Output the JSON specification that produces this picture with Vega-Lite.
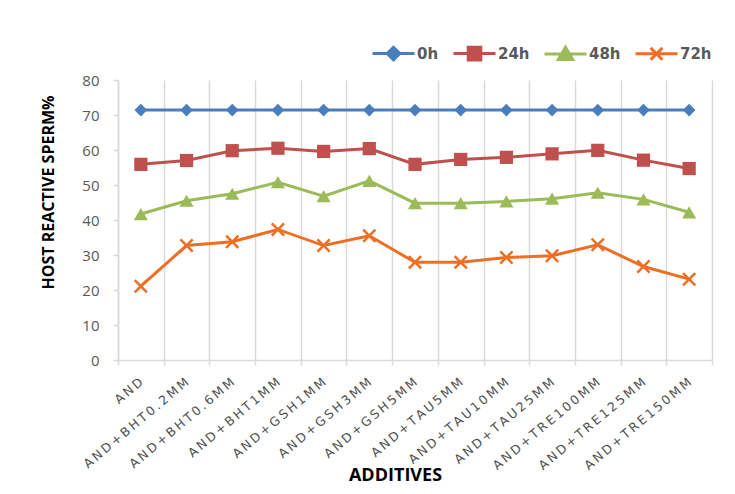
{
  "$schema": "https://vega.github.io/schema/vega-lite/v6.json",
  "width": 594,
  "height": 280,
  "autosize": {"type": "none"},
  "padding": {"left": 118, "top": 80, "right": 23, "bottom": 134},
  "background": "white",
  "data": {
    "values": [
      {"additive": "AND", "time": "0h", "value": 71.4},
      {"additive": "AND", "time": "24h", "value": 55.9},
      {"additive": "AND", "time": "48h", "value": 41.7},
      {"additive": "AND", "time": "72h", "value": 21.1},
      {"additive": "AND+BHT0.2MM", "time": "0h", "value": 71.4},
      {"additive": "AND+BHT0.2MM", "time": "24h", "value": 57.0},
      {"additive": "AND+BHT0.2MM", "time": "48h", "value": 45.5},
      {"additive": "AND+BHT0.2MM", "time": "72h", "value": 32.7},
      {"additive": "AND+BHT0.6MM", "time": "0h", "value": 71.4},
      {"additive": "AND+BHT0.6MM", "time": "24h", "value": 59.8},
      {"additive": "AND+BHT0.6MM", "time": "48h", "value": 47.5},
      {"additive": "AND+BHT0.6MM", "time": "72h", "value": 33.8},
      {"additive": "AND+BHT1MM", "time": "0h", "value": 71.4},
      {"additive": "AND+BHT1MM", "time": "24h", "value": 60.5},
      {"additive": "AND+BHT1MM", "time": "48h", "value": 50.8},
      {"additive": "AND+BHT1MM", "time": "72h", "value": 37.3},
      {"additive": "AND+GSH1MM", "time": "0h", "value": 71.4},
      {"additive": "AND+GSH1MM", "time": "24h", "value": 59.6},
      {"additive": "AND+GSH1MM", "time": "48h", "value": 46.8},
      {"additive": "AND+GSH1MM", "time": "72h", "value": 32.7},
      {"additive": "AND+GSH3MM", "time": "0h", "value": 71.4},
      {"additive": "AND+GSH3MM", "time": "24h", "value": 60.4},
      {"additive": "AND+GSH3MM", "time": "48h", "value": 51.2},
      {"additive": "AND+GSH3MM", "time": "72h", "value": 35.5},
      {"additive": "AND+GSH5MM", "time": "0h", "value": 71.4},
      {"additive": "AND+GSH5MM", "time": "24h", "value": 55.9},
      {"additive": "AND+GSH5MM", "time": "48h", "value": 44.8},
      {"additive": "AND+GSH5MM", "time": "72h", "value": 27.9},
      {"additive": "AND+TAU5MM", "time": "0h", "value": 71.4},
      {"additive": "AND+TAU5MM", "time": "24h", "value": 57.3},
      {"additive": "AND+TAU5MM", "time": "48h", "value": 44.8},
      {"additive": "AND+TAU5MM", "time": "72h", "value": 27.9},
      {"additive": "AND+TAU10MM", "time": "0h", "value": 71.4},
      {"additive": "AND+TAU10MM", "time": "24h", "value": 57.9},
      {"additive": "AND+TAU10MM", "time": "48h", "value": 45.3},
      {"additive": "AND+TAU10MM", "time": "72h", "value": 29.3},
      {"additive": "AND+TAU25MM", "time": "0h", "value": 71.4},
      {"additive": "AND+TAU25MM", "time": "24h", "value": 58.9},
      {"additive": "AND+TAU25MM", "time": "48h", "value": 46.1},
      {"additive": "AND+TAU25MM", "time": "72h", "value": 29.8},
      {"additive": "AND+TRE100MM", "time": "0h", "value": 71.4},
      {"additive": "AND+TRE100MM", "time": "24h", "value": 59.9},
      {"additive": "AND+TRE100MM", "time": "48h", "value": 47.8},
      {"additive": "AND+TRE100MM", "time": "72h", "value": 32.9},
      {"additive": "AND+TRE125MM", "time": "0h", "value": 71.4},
      {"additive": "AND+TRE125MM", "time": "24h", "value": 57.1},
      {"additive": "AND+TRE125MM", "time": "48h", "value": 45.9},
      {"additive": "AND+TRE125MM", "time": "72h", "value": 26.7},
      {"additive": "AND+TRE150MM", "time": "0h", "value": 71.4},
      {"additive": "AND+TRE150MM", "time": "24h", "value": 54.7},
      {"additive": "AND+TRE150MM", "time": "48h", "value": 42.2},
      {"additive": "AND+TRE150MM", "time": "72h", "value": 23.1}
    ]
  },
  "encoding": {
    "x": {
      "field": "additive",
      "type": "nominal",
      "sort": null,
      "scale": {"type": "band", "paddingInner": 0, "paddingOuter": 0},
      "axis": {
        "title": "ADDITIVES",
        "titleFont": "Open Sans",
        "titleFontWeight": "bold",
        "titleFontSize": 18,
        "titleColor": "#000000",
        "titleX": 277,
        "titleY": 120,
        "titleAlign": "center",
        "titleBaseline": "alphabetic",
        "tickBand": "extent",
        "grid": true,
        "gridColor": "#D9D9D9",
        "gridWidth": 1.5,
        "domainColor": "#D9D9D9",
        "domainWidth": 1.5,
        "tickColor": "#D9D9D9",
        "tickWidth": 1.5,
        "tickSize": 5,
        "labelAngle": -40,
        "labelAlign": "right",
        "labelBaseline": "middle",
        "labelPadding": 15,
        "labelFont": "DejaVu Sans",
        "labelFontSize": 12.5,
        "labelColor": "#505050",
        "labelExpr": "join(split(datum.label, ''), '\u2009')"
      }
    },
    "y": {
      "field": "value",
      "type": "quantitative",
      "scale": {"domain": [0, 80], "nice": false},
      "axis": {
        "title": "HOST REACTIVE SPERM%",
        "titleFont": "Open Sans",
        "titleFontWeight": "bold",
        "titleFontSize": 16,
        "titleColor": "#000000",
        "titleX": -70,
        "titleY": 112,
        "titleAngle": -90,
        "titleAlign": "center",
        "titleBaseline": "middle",
        "values": [0, 10, 20, 30, 40, 50, 60, 70, 80],
        "grid": false,
        "domainColor": "#D9D9D9",
        "domainWidth": 1.5,
        "tickColor": "#D9D9D9",
        "tickWidth": 1.5,
        "tickSize": 5,
        "labelPadding": 14,
        "labelFont": "Open Sans",
        "labelFontSize": 15,
        "labelColor": "#595959"
      }
    },
    "color": {
      "field": "time",
      "type": "nominal",
      "sort": ["0h", "24h", "48h", "72h"],
      "scale": {"domain": ["0h", "24h", "48h", "72h"], "range": ["#4A7EBB", "#C0504D", "#9BBB59", "#EE6E24"]},
      "legend": {
        "orient": "none",
        "legendX": 253,
        "legendY": -49,
        "direction": "horizontal",
        "title": null,
        "padding": 0,
        "symbolSize": 1764,
        "symbolStrokeWidth": 3,
        "labelOffset": 1,
        "columnPadding": 8,
        "labelFont": "DejaVu Sans",
        "labelFontWeight": "bold",
        "labelFontSize": 15,
        "labelColor": "#595959",
        "encode": {
          "symbols": {
            "update": {
              "shape": {"signal": "datum.value === '0h' ? 'M-1,0H1M0,-0.3L0.3,0L0,0.3L-0.3,0Z' : datum.value === '24h' ? 'M-1,0H1M-0.3,-0.3H0.3V0.3H-0.3Z' : datum.value === '48h' ? 'M-1,0H1M0,-0.32L0.34,0.26H-0.34Z' : 'M-1,0H1M-0.28,-0.28L0.28,0.28M-0.28,0.28L0.28,-0.28'"},
              "fill": {"scale": "color", "field": "value"},
              "stroke": {"scale": "color", "field": "value"},
              "strokeWidth": {"value": 3},
              "opacity": {"value": 1}
            }
          }
        }
      }
    }
  },
  "layer": [
    {
      "mark": {"type": "line", "strokeWidth": 3}
    },
    {
      "transform": [{"filter": "datum.time === '0h'"}],
      "mark": {"type": "point", "filled": true, "opacity": 1, "shape": "diamond", "size": 160}
    },
    {
      "transform": [{"filter": "datum.time === '24h'"}],
      "mark": {"type": "point", "filled": true, "opacity": 1, "shape": "square", "size": 175}
    },
    {
      "transform": [{"filter": "datum.time === '48h'"}],
      "mark": {"type": "point", "filled": true, "opacity": 1, "shape": "triangle-up", "size": 200}
    },
    {
      "transform": [{"filter": "datum.time === '72h'"}],
      "mark": {"type": "point", "filled": false, "opacity": 1, "shape": "M-1,-1L1,1M-1,1L1,-1", "size": 150, "strokeWidth": 2.5}
    }
  ],
  "config": {
    "view": {"stroke": null}
  }
}
